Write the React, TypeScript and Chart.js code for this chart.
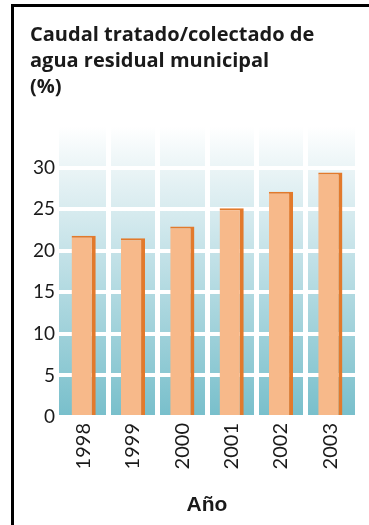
import React, { useEffect, useRef } from "react";
import { Chart, registerables } from "chart.js";

Chart.register(...registerables);

const TITLE_LINES = ["Caudal tratado/colectado de", "agua residual municipal", "(%)"];
const YEARS = ["1998", "1999", "2000", "2001", "2002", "2003"];
const VALUES = [21.8, 21.5, 22.9, 25.1, 27.1, 29.4];
const Y_TICKS = [0, 5, 10, 15, 20, 25, 30];
const X_TITLE = "Año";

const bgPlugin = {
  id: "bandBackground",
  beforeDraw(chart: any) {
    const { ctx, chartArea } = chart;
    if (!chartArea) return;
    const g = ctx.createLinearGradient(0, chartArea.bottom, 0, chartArea.top);
    g.addColorStop(0, "#78bfcb");
    g.addColorStop(0.55, "#c2e1e7");
    g.addColorStop(0.85, "#eaf4f6");
    g.addColorStop(1, "#ffffff");
    ctx.save();
    ctx.fillStyle = g;
    ctx.fillRect(chartArea.left, chartArea.top, chartArea.right - chartArea.left, chartArea.bottom - chartArea.top);
    ctx.restore();
  },
};

export default function App() {
  const ref = useRef<HTMLCanvasElement | null>(null);
  useEffect(() => {
    if (!ref.current) return;
    const chart = new Chart(ref.current, {
      type: "bar",
      data: {
        labels: YEARS,
        datasets: [
          {
            data: VALUES,
            backgroundColor: "#f7b98a",
            borderColor: "#e27a2c",
            borderWidth: { top: 2, right: 4, left: 0, bottom: 0 } as any,
            borderSkipped: false as any,
            barPercentage: 0.49,
            categoryPercentage: 1,
          },
        ],
      },
      options: {
        animation: false,
        responsive: false,
        devicePixelRatio: 1,
        layout: { padding: { left: 16, right: 14, top: 0, bottom: 0 } },
        plugins: {
          legend: { display: false },
          tooltip: { enabled: false },
          title: {
            display: true,
            text: TITLE_LINES,
            align: "start",
            color: "#1a1a1a",
            font: { family: "Open Sans", size: 20, weight: "bold", lineHeight: "26px" as any },
            padding: { top: 15, bottom: 26 },
          },
        },
        scales: {
          x: {
            grid: {
              offset: true,
              lineWidth: 5,
              drawTicks: false,
              color: (c: any) => (c.type !== "tick" || c.index === 0 ? "rgba(0,0,0,0)" : "#ffffff"),
            },
            border: { display: false },
            ticks: {
              minRotation: 90,
              maxRotation: 90,
              autoSkip: false,
              padding: 6,
              color: "#1a1a1a",
              font: { family: "Lato", size: 20 },
            },
            title: {
              display: true,
              text: X_TITLE,
              color: "#1a1a1a",
              font: { family: "Liberation Sans", size: 21, weight: "bold" },
              padding: { top: 0, bottom: 7 },
            },
            afterFit: (s: any) => {
              s.height = 108;
            },
          },
          y: {
            min: 0,
            max: 35,
            afterBuildTicks: (s: any) => {
              s.ticks = [...Y_TICKS, 35].map((v) => ({ value: v }));
            },
            grid: {
              lineWidth: 4,
              drawTicks: false,
              color: (c: any) => (c.tick && c.tick.value === 35 ? "rgba(0,0,0,0)" : "#ffffff"),
            },
            border: { display: false },
            ticks: {
              padding: 4,
              color: "#1a1a1a",
              font: { family: "Lato", size: 19 },
              callback: (v: any) => (Y_TICKS.includes(Number(v)) ? String(v) : ""),
            },
            afterFit: (s: any) => {
              s.width = 29;
            },
          },
        },
      },
      plugins: [bgPlugin],
    });
    return () => chart.destroy();
  }, []);

  return (
    <div style={{ position: "fixed", left: 0, top: 0, width: 369, height: 525, background: "#fff" }}>
      <div
        style={{
          position: "absolute",
          left: 11,
          top: 4,
          width: 358,
          height: 521,
          borderLeft: "3px solid #000",
          borderTop: "3px solid #000",
        }}
      />
      <canvas
        ref={ref}
        width={355}
        height={518}
        style={{ position: "absolute", left: 14, top: 7, width: 355, height: 518 }}
      />
    </div>
  );
}
